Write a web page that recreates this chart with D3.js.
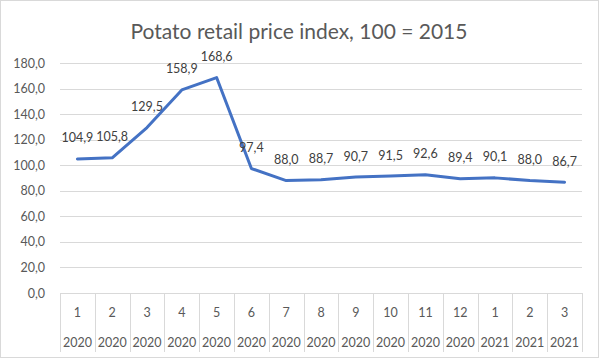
<!DOCTYPE html>
<html><head><meta charset="utf-8">
<script src="https://cdn.jsdelivr.net/npm/d3@7"></script>
<style>body{margin:0;background:#fff}svg{display:block}</style>
</head><body>
<svg id="c" width="600" height="360"></svg>
<script>
const months = ["1","2","3","4","5","6","7","8","9","10","11","12","1","2","3"];
const years = ["2020","2020","2020","2020","2020","2020","2020","2020","2020","2020","2020","2020","2021","2021","2021"];
const values = [104.9,105.8,129.5,158.9,168.6,97.4,88.0,88.7,90.7,91.5,92.6,89.4,90.1,88.0,86.7];
const yTicks = [0,20,40,60,80,100,120,140,160,180];
const title = "Potato retail price index, 100 = 2015";

const font = "Lato, 'Open Sans', sans-serif";
const svg = d3.select("#c");
const L = 60, R = 582, T = 63, B = 293;
const keys = months.map((m,i)=>i);
const x = d3.scaleBand().domain(keys).range([L,R]).paddingInner(0).paddingOuter(0);
const y = d3.scaleLinear().domain([0,180]).range([B,T]);
const fmt = v => d3.format(".1f")(v).replace(".",",");

svg.append("rect").attr("x",0.5).attr("y",0.5).attr("width",598).attr("height",357)
  .attr("fill","#fff").attr("stroke","#d9d9d9");

svg.append("text").attr("x",299).attr("y",39).attr("text-anchor","middle")
  .attr("font-family",font).attr("font-size",21).attr("fill","#595959").text(title);

// gridlines
svg.append("g").selectAll("line").data(yTicks.filter(d=>d>0)).join("line")
  .attr("x1",L).attr("x2",R).attr("y1",d=>Math.round(y(d))+0.5).attr("y2",d=>Math.round(y(d))+0.5)
  .attr("stroke","#d9d9d9").attr("stroke-width",1);

// y axis labels
const yAxis = d3.axisLeft(y).tickValues(yTicks).tickSize(0).tickPadding(0).tickFormat(fmt);
const gy = svg.append("g").attr("transform",`translate(45,0)`).call(yAxis);
gy.select(".domain").remove();
gy.selectAll("text").attr("font-family",font).attr("font-size",12.5).attr("fill","#595959");

// category axis
const gx = svg.append("g");
gx.append("line").attr("x1",L).attr("x2",R).attr("y1",B+0.5).attr("y2",B+0.5).attr("stroke","#d9d9d9");
const bounds = keys.map(k=>x(k)).concat([R]);
gx.selectAll("line.v").data(bounds).join("line").attr("class","v")
  .attr("x1",d=>Math.round(d)+0.5).attr("x2",d=>Math.round(d)+0.5).attr("y1",B).attr("y2",352)
  .attr("stroke","#d9d9d9");
gx.selectAll("text.m").data(keys).join("text").attr("class","m")
  .attr("x",k=>x(k)+x.bandwidth()/2).attr("y",316.5).attr("text-anchor","middle")
  .attr("font-family",font).attr("font-size",12.5).attr("fill","#595959").text(k=>months[k]);
gx.selectAll("text.yr").data(keys).join("text").attr("class","yr")
  .attr("x",k=>x(k)+x.bandwidth()/2).attr("y",346.5).attr("text-anchor","middle")
  .attr("font-family",font).attr("font-size",12.5).attr("fill","#595959").text(k=>years[k]);

// line
const line = d3.line().x(k=>x(k)+x.bandwidth()/2).y(k=>y(values[k]));
svg.append("path").datum(keys).attr("d",line).attr("fill","none")
  .attr("stroke","#4472C4").attr("stroke-width",3).attr("stroke-linejoin","round").attr("stroke-linecap","round");

// data labels
svg.append("g").selectAll("text").data(keys).join("text")
  .attr("x",k=>x(k)+x.bandwidth()/2).attr("y",k=>y(values[k])-16.5).attr("text-anchor","middle")
  .attr("font-family",font).attr("font-size",12.5).attr("fill","#404040").text(k=>fmt(values[k]));
</script>
</body></html>
